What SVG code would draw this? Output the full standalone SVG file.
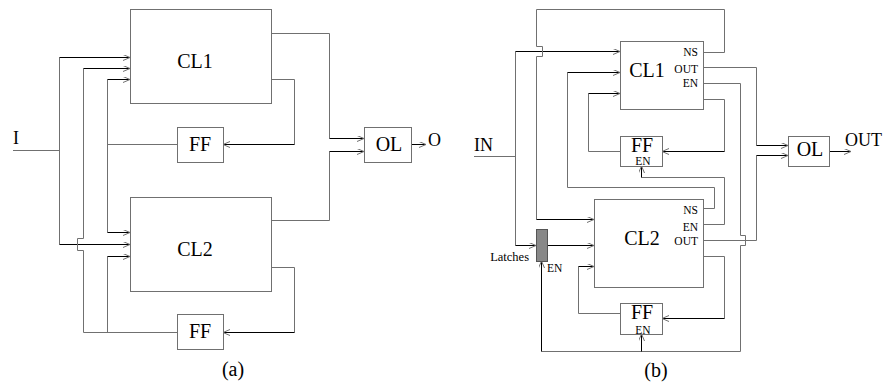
<svg xmlns="http://www.w3.org/2000/svg" width="883" height="383" viewBox="0 0 883 383">
<style>
.box{fill:#fff;stroke:#707070;stroke-width:1}
.g{fill:none;stroke:#707070;stroke-width:1}
.k{fill:none;stroke:#000;stroke-width:1;marker-end:url(#ah)}
text{font-family:"Liberation Serif","Times New Roman",serif;fill:#000}
.big{font-size:20px;text-anchor:middle}
.io{font-size:18px}
.sm{font-size:11.5px}
.r{text-anchor:end}
.m{text-anchor:middle}
</style>
<defs>
<marker id="ah" markerWidth="8" markerHeight="7" refX="7" refY="3" orient="auto" markerUnits="userSpaceOnUse">
<path d="M0,0 L7,3 L0,6" fill="none" stroke="#707070" stroke-width="1"/>
</marker>
</defs>

<!-- (a) -->
<g id="connectors-a">
<path class="g" d="M13,150.5 H59.5"/>
<path class="g" d="M59.5,57.5 V244.5"/>
<path class="k" d="M59.5,57.5 H130"/>
<path class="k" d="M59.5,244.5 H130"/>
<path class="g" d="M177,144.5 H107.5"/>
<path class="g" d="M107.5,79.5 V232.5"/>
<path class="k" d="M107.5,79.5 H130"/>
<path class="k" d="M107.5,232.5 H130"/>
<path class="g" d="M177,332.5 H83.5 V250.5 H77.5 V238.5 H83.5 V68.5"/>
<path class="k" d="M83.5,68.5 H130"/>
<path class="g" d="M107.5,332.5 V256.5"/>
<path class="k" d="M107.5,256.5 H130"/>
<path class="g" d="M271,33.5 H329.5 V138.5"/>
<path class="k" d="M329.5,138.5 H364"/>
<path class="g" d="M271,220.5 H329.5 V151.5"/>
<path class="k" d="M329.5,151.5 H364"/>
<path class="g" d="M271,79.5 H294.5 V144.5"/>
<path class="k" d="M294.5,144.5 H223"/>
<path class="g" d="M271,267.5 H294.5 V332.5"/>
<path class="k" d="M294.5,332.5 H223"/>
<path class="k" d="M411,144.5 H426"/>
</g>
<g id="CL1a"><rect class="box" x="130.5" y="9.5" width="141" height="94"/><text class="big" x="195" y="68">CL1</text></g>
<g id="FF1a"><rect class="box" x="177.5" y="127.5" width="46" height="35"/><text class="big" x="200" y="151">FF</text></g>
<g id="CL2a"><rect class="box" x="130.5" y="197.5" width="141" height="94"/><text class="big" x="195" y="256">CL2</text></g>
<g id="FF2a"><rect class="box" x="177.5" y="314.5" width="46" height="35"/><text class="big" x="200" y="338">FF</text></g>
<g id="OLa"><rect class="box" x="364.5" y="127.5" width="47" height="35"/><text class="big" x="389" y="151">OL</text></g>
<text class="io" x="13" y="144">I</text>
<text class="io" x="428" y="146">O</text>
<text class="big" x="233" y="376">(a)</text>

<!-- (b) -->
<g id="connectors-b">
<path class="g" d="M474,156.5 H515.5"/>
<path class="g" d="M515.5,51.5 V245.5"/>
<path class="k" d="M515.5,51.5 H620"/>
<path class="k" d="M515.5,245.5 H536"/>
<path class="k" d="M547,245.5 H594"/>
<path class="g" d="M703,52.5 H724.5 V9.5 H536.5 V46.5 H542.5 V56.5 H536.5 V219.5"/>
<path class="k" d="M536.5,219.5 H594"/>
<path class="g" d="M703,208.5 H714.5 V187.5 H567.5 V72.5"/>
<path class="k" d="M567.5,72.5 H620"/>
<path class="g" d="M620,151.5 H588.5 V93.5"/>
<path class="k" d="M588.5,93.5 H620"/>
<path class="g" d="M703,99.5 H724.5 V151.5"/>
<path class="k" d="M724.5,151.5 H662"/>
<path class="g" d="M703,224.5 H724.5 V177.5 H641.5"/>
<path class="k" d="M641.5,177.5 V166"/>
<path class="g" d="M703,67.5 H756.5 V145.5"/>
<path class="k" d="M756.5,145.5 H788"/>
<path class="g" d="M703,240.5 H756.5 V155.5"/>
<path class="k" d="M756.5,155.5 H788"/>
<path class="g" d="M703,83.5 H740.5 V235.5 H745.5 V245.5 H740.5 V351.5 H541.5"/>
<path class="k" d="M541.5,351.5 V261"/>
<path class="k" d="M641.5,351.5 V334"/>
<path class="g" d="M703,256.5 H724.5 V318.5"/>
<path class="k" d="M724.5,318.5 H662"/>
<path class="g" d="M620,313.5 H578.5 V266.5"/>
<path class="k" d="M578.5,266.5 H594"/>
<path class="k" d="M829,151.5 H851"/>
</g>
<g id="CL1b"><rect class="box" x="620.5" y="41.5" width="83" height="68"/><text class="big" x="647" y="77">CL1</text>
<text class="sm r" x="698" y="56">NS</text><text class="sm r" x="698" y="73">OUT</text><text class="sm r" x="698" y="87">EN</text></g>
<g id="FF1b"><rect class="box" x="620.5" y="136.5" width="42" height="30"/><text class="big" x="642" y="152">FF</text><text class="sm m" x="643" y="165">EN</text></g>
<g id="CL2b"><rect class="box" x="594.5" y="199.5" width="109" height="88"/><text class="big" x="642" y="245">CL2</text>
<text class="sm r" x="698" y="214">NS</text><text class="sm r" x="698" y="231">EN</text><text class="sm r" x="698" y="245">OUT</text></g>
<g id="FF2b"><rect class="box" x="620.5" y="303.5" width="42" height="31"/><text class="big" x="642" y="319">FF</text><text class="sm m" x="643" y="334">EN</text></g>
<g id="Latches"><rect x="536.5" y="229.5" width="11" height="32" fill="#888" stroke="#555"/><text class="sm r" x="529" y="261" style="font-size:12.5px">Latches</text><text class="sm" x="547" y="272">EN</text></g>
<g id="OLb"><rect class="box" x="788.5" y="136.5" width="41" height="30"/><text class="big" x="810" y="156">OL</text></g>
<text class="io" x="474" y="151">IN</text>
<text class="io" x="845" y="146">OUT</text>
<text class="big" x="656" y="377">(b)</text>
</svg>
